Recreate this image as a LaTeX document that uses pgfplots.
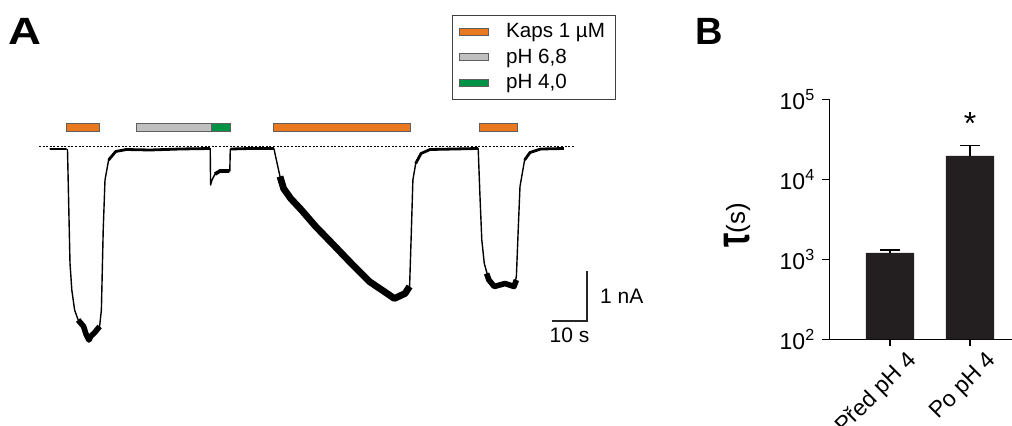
\documentclass[border=0pt]{standalone}
\usepackage{pgfplots}
\pgfplotsset{compat=1.18}
\usepackage{fontspec}
\setmainfont{Liberation Sans}
\definecolor{kaps}{RGB}{233,120,30}
\definecolor{phgray}{RGB}{192,192,192}
\definecolor{phgreen}{RGB}{0,146,69}
\definecolor{baredge}{RGB}{95,95,95}
\definecolor{barB}{RGB}{35,31,32}

\begin{document}
\begin{tikzpicture}
\path[use as bounding box] (0,0) rectangle (506pt,212.5pt);
\node[anchor=base west, inner sep=0pt, font=\fontsize{19}{19}\selectfont\bfseries] at (4pt,190.5pt) {\scalebox{1.2}[1]{A}};
\node[anchor=base west, inner sep=0pt, font=\fontsize{19}{19}\selectfont\bfseries] at (347.5pt,190.5pt) {B};

% ---------------- panel A: current trace (t in s, I in nA)
\begin{axis}[
    at={(16.5pt,34.5pt)}, anchor=south west,
    scale only axis, width=283.5pt, height=130pt,
    xmin=-2, xmax=160, ymin=-4.2, ymax=1.0,
    hide axis, clip=false,
    legend style={at={(0.739,1.3115)}, anchor=north west,
        draw=black!75, line width=0.5pt,
        font=\fontsize{10.3}{12}\selectfont,
        inner xsep=3pt, inner ysep=2pt, row sep=0pt,
        /tikz/every odd column/.append style={column sep=6.5pt}},
    legend cell align=left,
    legend image code/.code={\draw[#1, line width=0.5pt] (0pt,-1.7pt) rectangle (14.8pt,1.7pt);},
]
\addlegendimage{fill=kaps, draw=baredge}
\addlegendentry{Kaps 1 µM}
\addlegendimage{fill=phgray, draw=baredge}
\addlegendentry{pH 6,8}
\addlegendimage{fill=phgreen, draw=baredge}
\addlegendentry{pH 4,0}

% application bars
\addplot[fill=kaps, draw=baredge, line width=0.5pt, forget plot] coordinates {(7.54,0.30) (17.14,0.30) (17.14,0.46) (7.54,0.46)} -- cycle;
\addplot[fill=phgray, draw=baredge, line width=0.5pt, forget plot] coordinates {(27.57,0.30) (48.86,0.30) (48.86,0.46) (27.57,0.46)} -- cycle;
\addplot[fill=phgreen, draw=baredge, line width=0.5pt, forget plot] coordinates {(48.86,0.30) (54.29,0.30) (54.29,0.46) (48.86,0.46)} -- cycle;
\addplot[fill=kaps, draw=baredge, line width=0.5pt, forget plot] coordinates {(66.80,0.30) (105.91,0.30) (105.91,0.46) (66.80,0.46)} -- cycle;
\addplot[fill=kaps, draw=baredge, line width=0.5pt, forget plot] coordinates {(125.71,0.30) (136.46,0.30) (136.46,0.46) (125.71,0.46)} -- cycle;

% baseline (dashed)
\addplot[black, line width=0.5pt, dash pattern=on 1pt off 0.8pt, forget plot] coordinates {(-0.3,0) (152.9,0)};

% trace
\addplot[black, line width=0.7pt, line join=round, forget plot] coordinates {
 (2.74,-0.06) (7.57,-0.06) (7.86,-0.08) (8.57,-2.34) (9.09,-2.88) (9.89,-3.28)
 (10.91,-3.48) (12.46,-3.61) (13.14,-3.76) (13.97,-3.88) (14.57,-3.80) (15.51,-3.74)
 (17.03,-3.61) (17.54,-3.28) (18.06,-1.68) (18.57,-0.68) (19.60,-0.28) (21.63,-0.11)
 (24.69,-0.07) (31.43,-0.08) (40.00,-0.06) (48.63,-0.05)
 (48.74,-0.78) (49.14,-0.68) (50.00,-0.56) (51.43,-0.50) (54.23,-0.50) (54.37,-0.06)
 (60.00,-0.05) (66.83,-0.05)
 (67.54,-0.28) (68.57,-0.61) (69.60,-0.85) (71.63,-1.05) (74.69,-1.28) (78.77,-1.61)
 (83.89,-1.98) (88.97,-2.35) (94.09,-2.71) (99.17,-2.95) (101.23,-3.05) (104.29,-2.95)
 (105.60,-2.81) (106.11,-1.68) (106.54,-0.68) (107.34,-0.35) (108.86,-0.15) (111.43,-0.07)
 (125.20,-0.05)
 (125.71,-1.01) (126.23,-1.88) (126.94,-2.35) (128.26,-2.68) (129.80,-2.81) (132.86,-2.75)
 (135.43,-2.81) (136.11,-2.61) (136.63,-1.68) (137.14,-0.81) (138.46,-0.28) (140.00,-0.13)
 (143.06,-0.06) (149.69,-0.05)
};
% quiet baselines, a little thicker
\addplot[black, line width=1.4pt, line join=round, forget plot] coordinates {
 (2.74,-0.06) (7.57,-0.06)};
\addplot[black, line width=1.4pt, line join=round, forget plot] coordinates {
 (19.60,-0.28) (21.63,-0.11) (24.69,-0.07) (31.43,-0.08) (40.00,-0.06) (48.55,-0.05)};
\addplot[black, line width=1.4pt, line join=round, forget plot] coordinates {
 (54.45,-0.06) (60.00,-0.05) (66.83,-0.05)};
\addplot[black, line width=1.4pt, line join=round, forget plot] coordinates {
 (107.34,-0.35) (108.86,-0.15) (111.43,-0.07) (125.10,-0.05)};
\addplot[black, line width=1.4pt, line join=round, forget plot] coordinates {
 (138.46,-0.28) (140.00,-0.13) (143.06,-0.06) (149.69,-0.05)};
% noisy stretches drawn thicker
\addplot[black, line width=2.8pt, line join=round, forget plot] coordinates {
 (10.91,-3.48) (12.46,-3.61) (13.14,-3.76) (13.97,-3.88) (14.57,-3.80) (15.51,-3.74) (17.03,-3.61)
};
\addplot[black, line width=3.4pt, line join=round, forget plot] coordinates {
 (68.57,-0.61) (69.60,-0.85) (71.63,-1.05) (74.69,-1.28) (78.77,-1.61)
 (83.89,-1.98) (88.97,-2.35) (94.09,-2.71) (99.17,-2.95) (101.23,-3.05) (104.29,-2.95) (105.60,-2.81)
};
\addplot[black, line width=2.8pt, line join=round, forget plot] coordinates {
 (127.60,-2.55) (128.26,-2.68) (129.80,-2.81) (132.86,-2.75) (135.43,-2.81) (136.11,-2.68)
};
\addplot[black, line width=1.8pt, forget plot] coordinates {(50.00,-0.56) (51.43,-0.50) (54.10,-0.50)};

% scale bar
\addplot[black!85, line width=0.6pt, forget plot] coordinates {(146.29,-3.5) (156.29,-3.5) (156.29,-2.5)};
\node[anchor=west, font=\fontsize{10.5}{12}\selectfont] at (axis cs:156.29,-3.0) {\hspace{3pt}1 nA};
\node[anchor=north, font=\fontsize{10.5}{12}\selectfont] at (axis cs:151.3,-3.5) {10 s};
\end{axis}

% ---------------- panel B: time constant
\begin{axis}[
    at={(414.65pt,42.85pt)}, anchor=south west,
    scale only axis, width=91.35pt, height=120pt,
    xmin=0.241, xmax=2.525,
    ymode=log, ymin=100, ymax=100000, log origin=infty,
    axis x line=bottom, axis y line=left,
    axis line style={-, line width=0.6pt},
    ytick={100,1000,10000,100000},
    yticklabels={10\textsuperscript{2},10\textsuperscript{3},10\textsuperscript{4},10\textsuperscript{5}},
    yminorticks=false,
    xtick={1,2}, xticklabels={Před pH 4,Po pH 4},
    tick align=outside, major tick length=3.5pt,
    tick style={line width=0.6pt, black},
    ticklabel style={font=\fontsize{11.5}{13}\selectfont},
    xticklabel style={xshift=14pt, yshift=-3pt, rotate=45, anchor=east},
    clip=false,
]
\addplot[ybar, bar width=24.15pt, fill=barB, draw=none,
    error bars/.cd, y dir=plus, y explicit,
    error bar style={line width=0.6pt, black},
    error mark options={rotate=90, mark size=5pt, line width=0.6pt, black}]
  coordinates {(1,1200) +- (0,106) (2,19700) +- (0,6600)};
\node[font=\fontsize{16}{16}\selectfont, yshift=-3pt] at (axis cs:2,58600) {*};
\end{axis}

\node[rotate=90, inner sep=0pt] at (368.75pt,99.75pt)
  {\raisebox{-2.5pt}{\scalebox{1}[1.5]{\fontsize{16}{16}\selectfont\bfseries τ}}\fontsize{13}{15}\selectfont(s)};
\end{tikzpicture}
\end{document}
